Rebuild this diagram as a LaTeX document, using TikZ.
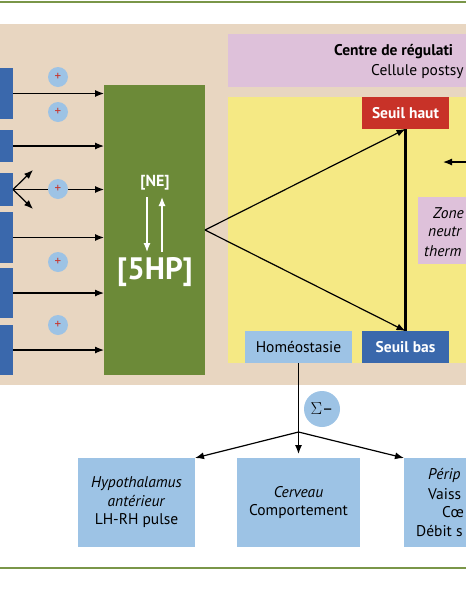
\documentclass[tikz,border=0pt]{standalone}
\usepackage{fontspec}
\setmainfont{PT Sans}
\usetikzlibrary{arrows.meta}
\definecolor{beige}{RGB}{232,214,193}
\definecolor{pinkc}{RGB}{222,193,218}
\definecolor{yellowc}{RGB}{245,233,132}
\definecolor{olive}{RGB}{108,138,56}
\definecolor{lineg}{RGB}{122,150,72}
\definecolor{dblue}{RGB}{58,104,172}
\definecolor{lblue}{RGB}{157,195,229}
\definecolor{redc}{RGB}{200,50,40}

\begin{document}
\begin{tikzpicture}[x=1pt, y=-1pt, >={Latex[length=9pt,width=7pt]},
			panel/.style={inner sep=0pt, outer sep=0pt},
			leftbox/.style={panel, fill=dblue, minimum width=40pt},
			plus/.style={circle, fill=lblue, minimum size=20pt, inner sep=0pt, text=redc, font=\fontsize{13}{14}\selectfont},
			seuil/.style={panel, minimum width=87pt, minimum height=32pt, text=white, font=\fontsize{15.5}{18}\selectfont\bfseries},
			effbox/.style={panel, fill=lblue, minimum height=89pt, align=center, font=\fontsize{15.5}{18.5}\selectfont},
			txt/.style={inner sep=0pt, font=\fontsize{15.5}{18}\selectfont},
			arr/.style={->, line width=1.2pt}
		]
		\useasboundingbox (0,0) rectangle (466,600);
		\clip (0,0) rectangle (466,600);

		\draw[lineg, line width=2pt] (0,1.5) -- (466,1.5);
		\draw[lineg, line width=2pt] (0,568) -- (466,568);

		\node[panel, fill=beige, minimum width=480pt, minimum height=361pt] (bg) at (233,204.5) {};
		\node[panel, fill=pinkc, minimum width=250pt, minimum height=53pt] (centre) at (353,60.5) {};
		\node[panel, fill=yellowc, minimum width=250pt, minimum height=266pt] (jaune) at (353,230) {};

		\node[txt, anchor=west, font=\fontsize{15.5}{18}\selectfont\bfseries] (ctitre) at (334,52) {Centre de régulati};
		\node[txt, anchor=west] (csous) at (371,72) {Cellule postsy};

		% entrees
		\node[leftbox, minimum height=51pt] (b1) at (-7,93.5) {};
		\node[leftbox, minimum height=32pt] (b2) at (-7,146) {};
		\node[leftbox, minimum height=33pt] (b3) at (-7,189.5) {};
		\node[leftbox, minimum height=51pt] (b4) at (-7,237.5) {};
		\node[leftbox, minimum height=50pt] (b5) at (-7,293) {};
		\node[leftbox, minimum height=50pt] (b6) at (-7,350) {};

		\node[panel, fill=olive, minimum width=101pt, minimum height=290pt] (gr) at (154.5,230) {};

		\foreach \i in {1,...,6}
			\draw[arr] (b\i.east) -- (b\i.east -| gr.west);

		\coordinate (u3) at (33,170);
		\coordinate (d3) at (33,209);
		\draw[arr] (b3.east) -- (u3);
		\draw[arr] (b3.east) -- (d3);

		\foreach \y [count=\i] in {77,112,189,262,325}
			\node[plus] (p\i) at (58,\y) {+};

		\node[text=white, font=\fontsize{16}{18}\selectfont\bfseries] (ne) at (155,183) {[NE]};
		\coordinate (n1) at (147,197);
		\coordinate (n2) at (147,252);
		\coordinate (n3) at (162,252);
		\coordinate (n4) at (162,197);
		\draw[arr, white] (n1) -- (n2);
		\draw[arr, white] (n3) -- (n4);
		\node[text=white, font=\fontsize{31}{36}\selectfont\bfseries] (hp) at (155,272) {[5HP]};

		% seuils
		\node[seuil, fill=redc] (sh) at (405.5,113) {Seuil haut};
		\node[seuil, fill=dblue] (sb) at (405.5,347) {Seuil bas};
		\node[panel, fill=lblue, minimum width=107pt, minimum height=32pt, font=\fontsize{15.5}{18}\selectfont] (ho) at (298.5,347) {Homéostasie};

		\draw[arr] (gr.east) -- (sh.south);
		\draw[arr] (gr.east) -- (sb.north);
		\draw[line width=2.8pt] (sh.south) -- (sb.north);

		\node[panel, fill=pinkc, minimum width=72pt, minimum height=67pt] (zn) at (454,230.5) {};
		\node[txt, anchor=west, font=\fontsize{15.5}{18}\selectfont\itshape] (zn1) at (433,213) {Zone};
		\node[txt, anchor=west, font=\fontsize{15.5}{18}\selectfont\itshape] (zn2) at (428,232) {neutr};
		\node[txt, anchor=west, font=\fontsize{15.5}{18}\selectfont\itshape] (zn3) at (424,251) {therm};

		\coordinate (zr) at (472,162);
		\coordinate (zl) at (443,162);
		\draw[arr] (zr) -- (zl);

		% effecteurs
		\coordinate (sp) at (298.5,432);
		\draw[line width=1.2pt] (ho.south) -- (sp);
		\node[circle, fill=lblue, minimum size=36pt, inner sep=0pt, font=\fontsize{17}{18}\selectfont] (sg) at (322,409) {$\Sigma$–};

		\node[effbox, minimum width=117pt] (hy) at (136.5,502.5) {\textit{Hypothalamus}\\\textit{antérieur}\\LH-RH pulse};
		\node[effbox, minimum width=123pt] (ce) at (298.5,502.5) {\textit{Cerveau}\\Comportement};
		\node[effbox, minimum width=116pt] (pe) at (462,502.5) {};
		\node[txt, anchor=west, font=\fontsize{15.5}{18}\selectfont\itshape] (pe1) at (428,475) {Périp};
		\node[txt, anchor=west] (pe2) at (428,494) {Vaiss};
		\node[txt, anchor=west] (pe3) at (442,512) {Cœ};
		\node[txt, anchor=west] (pe4) at (416,531) {Débit s};

		\draw[arr] (sp) -- (hy.north east);
		\draw[arr, shorten >=4pt] (sp) -- (ce.north);
		\draw[arr] (sp) -- (pe.north west);
	\end{tikzpicture}
\end{document}
